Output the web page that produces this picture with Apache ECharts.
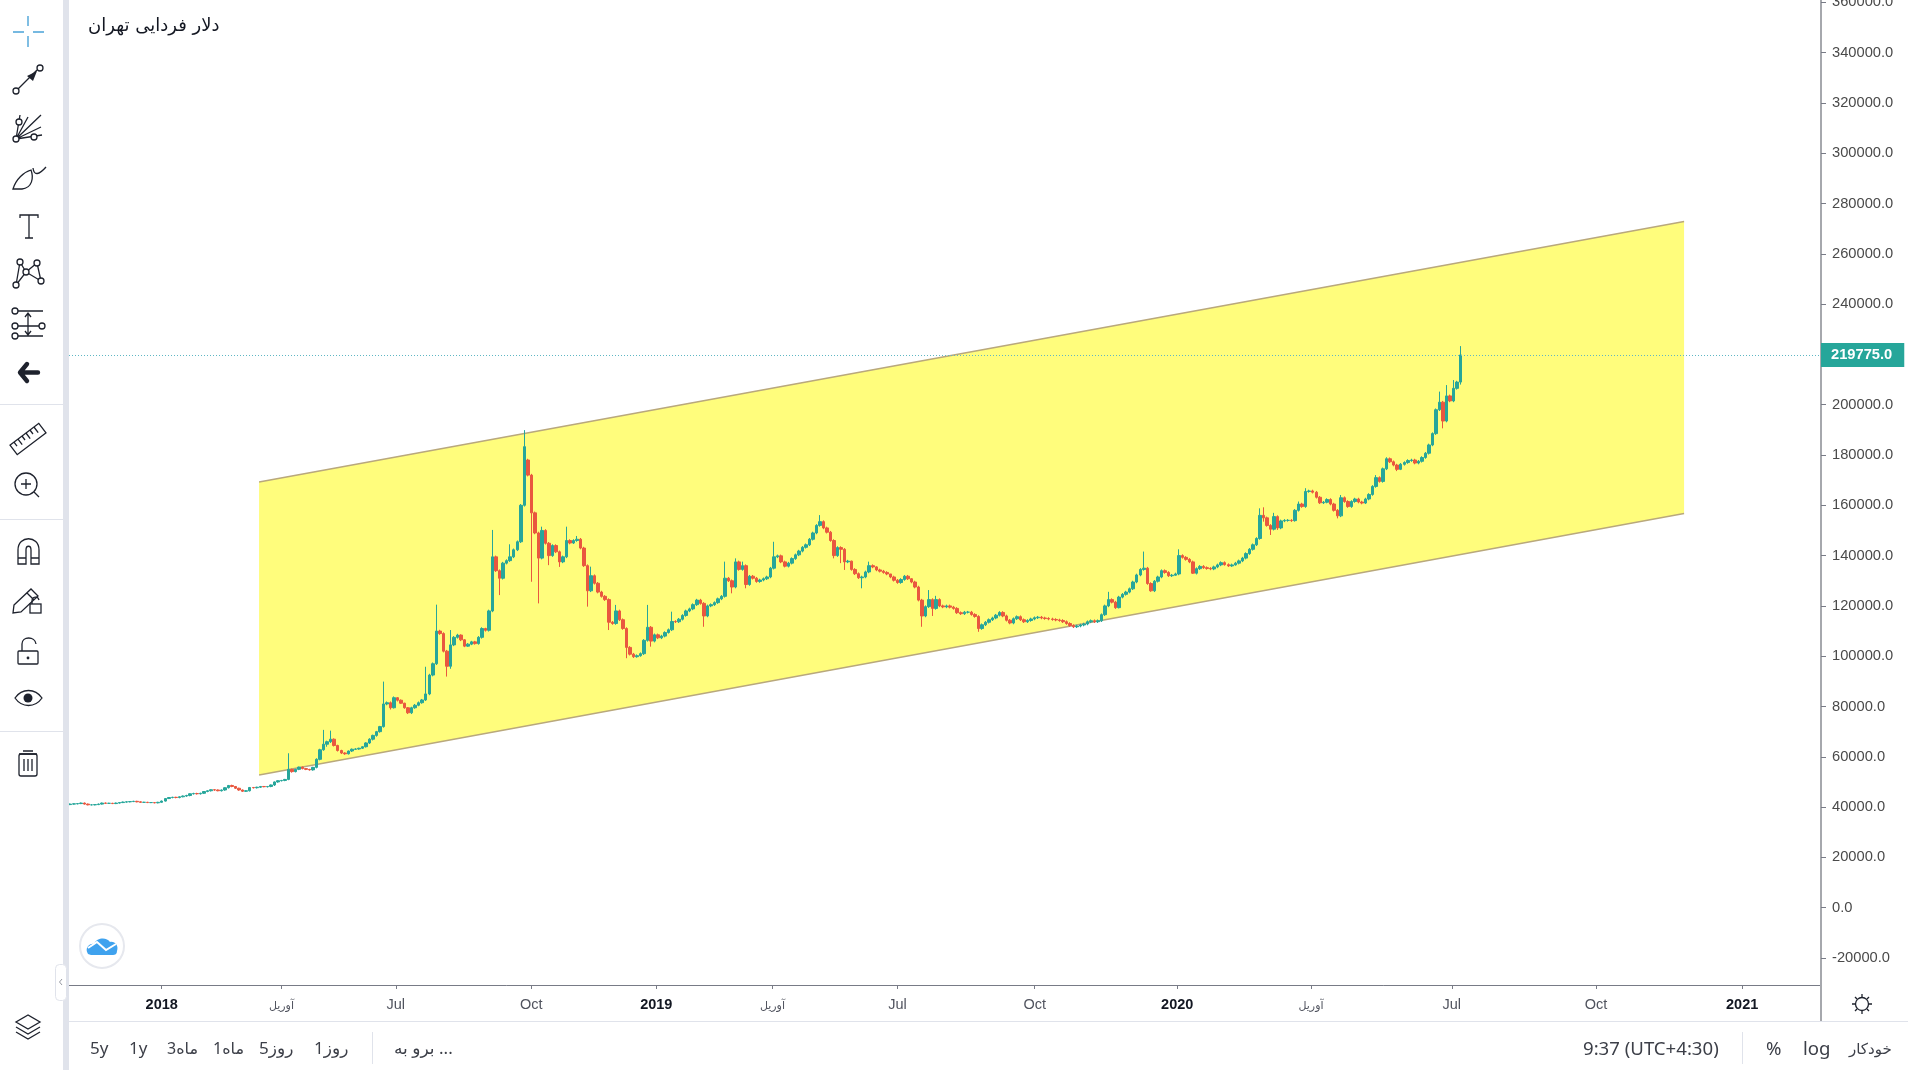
<!DOCTYPE html>
<html>
<head>
    <meta charset="UTF-8">
    <title>دلار فردایی تهران</title>
    <script src="https://cdn.jsdelivr.net/npm/echarts@6/dist/echarts.min.js"></script>
    <style>
        html, body { margin: 0; padding: 0; width: 1908px; height: 1070px; overflow: hidden; background: #fff; }
        #chart { position: absolute; left: 0; top: 0; width: 1908px; height: 1070px; }
        .chrome { position: absolute; pointer-events: none; }
        .line { position: absolute; background: #e0e3eb; }
        .foot { position: absolute; top: 1036px; line-height: 24px; font-family: "Noto Sans", "DejaVu Sans", sans-serif; font-size: 17px; color: #3c3f48; white-space: nowrap; direction: ltr; }
        svg { position: absolute; left: 0; top: 0; }
        svg .ic { fill: none; stroke: #1e222d; stroke-width: 1.3; }
    </style>
</head>
<body>
    <div id="chart"></div>

    <!-- left toolbar and bottom bar of the trading screen -->
    <div class="line" style="left:63px;top:0;width:6px;height:1070px"></div>
    <div class="line" style="left:0;top:404px;width:63px;height:1px"></div>
    <div class="line" style="left:0;top:519px;width:63px;height:1px"></div>
    <div class="line" style="left:0;top:731px;width:63px;height:1px"></div>
    <div class="line" style="left:69px;top:1021px;width:1839px;height:1px"></div>
    <div class="line" style="left:372px;top:1032px;width:1px;height:32px"></div>
    <div class="line" style="left:1742px;top:1032px;width:1px;height:32px"></div>
    <div class="line" style="left:1820px;top:985px;width:2px;height:36px;background:#a6a8ad"></div>

    <svg class="chrome" width="1908" height="1070" viewBox="0 0 1908 1070">
        <!-- crosshair -->
        <g stroke="#4aa3d8" stroke-width="1.4" fill="none">
            <path d="M28 16V26M28 36V47M13 32H24M33 32H44"/>
        </g>
        <!-- trend line -->
        <g class="ic">
            <circle cx="16" cy="91" r="3" fill="#fff"/><circle cx="40" cy="68" r="3" fill="#fff"/>
            <path d="M18 89L37 70"/>
        </g>
        <path d="M37 71L27 76L33 81Z" fill="#1e222d"/>
        <!-- fan -->
        <g class="ic">
            <path d="M16 139L20 115M16 139L28 117M16 139L41 115M16 139L41 127M16 139L42 135"/>
            <circle cx="16" cy="139" r="3" fill="#fff"/><circle cx="19" cy="122" r="3" fill="#fff"/><circle cx="34" cy="137" r="3" fill="#fff"/>
        </g>
        <!-- brush -->
        <path class="ic" d="M13 189C16 179 24 172 31 170C34 178 32 188 22 189ZM33 168C34 176 39 175 46 167"/>
        <!-- text -->
        <path class="ic" d="M20 218V215H38V218M29 215V238M25 238H33"/>
        <!-- pattern -->
        <g class="ic">
            <path d="M16 285L20 262L26 272L37 263L41 281L26 272L16 285"/>
            <circle cx="16" cy="285" r="3" fill="#fff"/><circle cx="20" cy="262" r="3" fill="#fff"/><circle cx="37" cy="263" r="3" fill="#fff"/><circle cx="41" cy="281" r="3" fill="#fff"/><circle cx="26" cy="272" r="3" fill="#fff"/>
        </g>
        <!-- fib -->
        <g class="ic">
            <path d="M18 311H43M18 326H39M18 336H43M28 314V334M25 317L28 313L31 317M25 331L28 335L31 331"/>
            <circle cx="15" cy="311" r="3" fill="#fff"/><circle cx="15" cy="326" r="3" fill="#fff"/><circle cx="15" cy="336" r="3" fill="#fff"/><circle cx="42" cy="326" r="3" fill="#fff"/>
        </g>
        <!-- hide tools -->
        <path d="M27 364L20 372.5L27 381M21 372.5H38" fill="none" stroke="#1e222d" stroke-width="4.4" stroke-linejoin="round" stroke-linecap="round"/>
        <!-- ruler -->
        <g class="ic" transform="rotate(-37 28 439)">
            <rect x="10" y="433" width="36" height="12"/>
            <path d="M15 433V438M20 433V440M25 433V438M30 433V440M35 433V438M40 433V440"/>
        </g>
        <!-- zoom -->
        <g class="ic">
            <circle cx="26" cy="484" r="11"/><path d="M21 484H31M26 479V489M34 492L39 497"/>
        </g>
        <!-- magnet -->
        <path class="ic" d="M18 564V550C18 535 39 535 39 550V564H31V550C31 545 26 545 26 550V564ZM18 558H26M31 558H39"/>
        <!-- pencil lock -->
        <g class="ic">
            <path d="M14 605L31 589L38 596L21 612L13 613ZM27 593L34 600"/>
            <rect x="30" y="604" width="11" height="9" fill="#fff"/><path d="M32 604V601C32 596 38 596 39 600"/>
        </g>
        <!-- lock -->
        <g class="ic">
            <rect x="18" y="651" width="20" height="13" rx="1"/><path d="M22 651V644C22 636 35 636 36 644"/>
        </g>
        <circle cx="28" cy="658" r="1.4" fill="#1e222d"/>
        <!-- eye -->
        <path class="ic" d="M15 698C22 688 35 688 42 698C35 708 22 708 15 698Z"/>
        <circle cx="28" cy="698" r="4.5" fill="#1e222d"/>
        <!-- trash -->
        <g class="ic">
            <rect x="19" y="754" width="18" height="22" rx="2"/><path d="M19 754H37M23 751H33M24 759V771M28 759V771M32 759V771"/>
        </g>
        <!-- layers -->
        <path class="ic" d="M28 1015L16 1022L28 1029L40 1022ZM16 1027L28 1034L40 1027M16 1032L28 1039L40 1032"/>
        <!-- collapse tab -->
        <rect x="55.5" y="964.5" width="11" height="36" rx="4" fill="#fff" stroke="#e0e3eb"/>
        <path d="M62 979L59.5 982L62 985" fill="none" stroke="#9598a1"/>
        <!-- logo -->
        <circle cx="102" cy="946" r="22" fill="#fff" stroke="#e6e8ee" stroke-width="2"/>
        <path d="M88 954C84 948 90 943 94 944C97 937 107 937 110 942C115 941 119 946 117 951C117 954 115 955 113 955H91Z" fill="#3fa2ee"/>
        <path d="M88 948L97 942L106 950L116 944" fill="none" stroke="#fff" stroke-width="2"/>
        <!-- settings -->
        <g class="ic">
            <circle cx="1862" cy="1004" r="6.5"/>
            <path d="M1862 994V997M1862 1011V1014M1852 1004H1855M1869 1004H1872M1855 997L1857 999M1867 1009L1869 1011M1869 997L1867 999M1857 1009L1855 1011"/>
        </g>
    </svg>

    <span class="foot" style="left:90px">5y</span>
    <span class="foot" style="left:129px">1y</span>
    <span class="foot" style="left:167px;font-size:16px">3ماه</span>
    <span class="foot" style="left:213px;font-size:16px">1ماه</span>
    <span class="foot" style="left:259px;letter-spacing:.5px">5روز</span>
    <span class="foot" style="left:314px;letter-spacing:.5px">1روز</span>
    <span class="foot" style="left:394px;letter-spacing:.8px">برو به ...</span>
    <span class="foot" style="left:1583px;font-size:18.6px">9:37 (UTC+4:30)</span>
    <span class="foot" style="left:1766px;font-size:18.6px">%</span>
    <span class="foot" style="left:1803px;font-size:18.6px">log</span>
    <span class="foot" style="left:1849px;font-size:15px">خودکار</span>

    <script>
        const chartTitle = 'دلار فردایی تهران';

        // x unit is the trading bar number, bar 0 sits on the 2018 tick
        const barFirst = -52, barStep = 2;
        const xMin = -52.7, xMax = 942.8;
        const yMin = -30736, yMax = 360914;

        const xTickBars = [0, 68, 133, 210, 281, 347, 418, 496, 577, 653, 733, 815, 898];
        const xTickLabels = ['2018', 'آوریل', 'Jul', 'Oct', '2019', 'آوریل', 'Jul', 'Oct', '2020', 'آوریل', 'Jul', 'Oct', '2021'];
        const yTicks = [-20000, 0, 20000, 40000, 60000, 80000, 100000, 120000, 140000, 160000, 180000,
            200000, 220000, 240000, 260000, 280000, 300000, 320000, 340000, 360000];

        const lastPrice = 219775;

        const channelBars = [55.3, 865];
        const channelUpper = [169260, 272840];
        const channelLower = [52760, 156740];

        const opens = [
            41000,41200,41300,41400,41600,41200,40900,40900,41000,41200,41600,41500,41500,41400,41600,
            41800,42000,42100,42200,42300,42100,41900,41900,41800,41800,41700,41900,42400,43400,43800,
            43900,43800,44100,44400,44600,45300,45400,45300,45500,46200,46500,46900,46800,46500,46800,
            47700,48600,48200,47500,46800,46300,46500,47800,47700,47900,48200,48100,48200,48800,50000,
            50500,50600,51000,55000,54100,55000,55900,55300,55000,54800,55800,59000,62800,65000,66000,
            67000,64500,62500,61500,61200,62300,63000,63100,63400,64000,65500,67000,68500,70000,72000,
            81000,81500,79500,83500,82500,81300,79500,77500,79500,80500,81500,82600,85000,92500,97000,
            110000,109000,102000,96000,104500,107500,108400,106500,104000,104800,105700,105000,107500,111000,110300,
            118000,139500,134000,131000,137000,138000,139500,142300,145500,160000,178000,172000,157000,149000,139000,
            150000,144900,140000,144000,141500,137500,139500,146000,145000,146000,146500,143000,136000,126000,132000,
            129000,125500,123800,122500,113500,113000,118000,114500,111000,103500,100800,99800,100200,101000,106300,
            111500,106000,108500,107300,108000,109400,110500,113800,113700,114700,116200,118000,118800,120500,122300,
            121000,116000,120000,120500,121300,122800,123800,131000,130000,127500,137500,134500,136000,128500,131800,
            131000,129700,130300,130800,131500,135000,139500,139900,137500,135800,137000,138800,140300,141800,143300,
            144300,146500,149000,152000,153500,151000,149300,146000,140000,143200,142500,137500,137800,134500,132800,
            131200,131500,133500,136000,135500,134300,133800,133300,132700,131500,130200,129300,130500,131800,130800,
            129500,127500,122300,116000,119700,122500,119000,122500,120000,119600,120000,119500,119000,117300,116900,
            117500,117500,116600,115800,111000,112500,113500,114500,115200,116300,117400,116000,114300,113200,114900,
            115700,114500,113700,114200,114800,115300,115500,115200,115000,114800,114600,114400,114200,113700,113000,
            112200,111700,112000,112400,112800,113700,114100,113700,114100,116500,120000,122500,121500,119300,123500,
            124600,125500,126800,129500,132300,134500,135000,128900,126000,129800,131500,134000,133300,132000,132200,
            132700,140000,139300,138500,137500,133000,134800,135700,135200,134900,134700,135500,136300,137200,136400,
            135900,136300,137000,137900,139000,140800,142500,144300,146800,156000,155000,152000,150500,155500,151000,
            153800,154000,154000,153900,158000,160500,159500,165500,165700,165200,163200,161000,161200,162300,160500,
            158000,155800,163000,161500,159500,161500,162500,161300,160900,162500,164300,167500,171000,169500,174500,
            178500,177300,176000,174300,176300,177000,177800,178000,176800,177500,179000,180700,184000,188500,198000,
            201000,193500,203500,201500,206500,209000
        ];
        const closes = [
            41200,41300,41400,41600,41200,40900,40900,41000,41200,41600,41500,41500,41400,41600,41800,
            42000,42100,42200,42300,42100,41900,41900,41800,41800,41700,41900,42400,43400,43800,43900,
            43800,44100,44400,44600,45300,45400,45300,45500,46200,46500,46900,46800,46500,46800,47700,
            48600,48200,47500,46800,46300,46500,47800,47700,47900,48200,48100,48200,48800,50000,50500,
            50600,51000,55000,54100,55000,55900,55300,55000,54800,55800,59000,62800,65000,66000,67000,
            64500,62500,61500,61200,62300,63000,63100,63400,64000,65500,67000,68500,70000,72000,81000,
            81500,79500,83500,82500,81300,79500,77500,79500,80500,81500,82600,85000,92500,97000,110000,
            109000,102000,96000,104500,107500,108400,106500,104000,104800,105700,105000,107500,111000,110300,118000,
            139500,134000,131000,137000,138000,139500,142300,145500,160000,183300,172000,157000,149000,139000,150000,
            144900,140000,144000,141500,137500,139500,146000,145000,146000,146500,143000,136000,126000,132000,129000,
            125500,123800,122500,113500,113000,118000,114500,111000,103500,100800,99800,100200,101000,106300,111500,
            106000,108500,107300,108000,109400,110500,113800,113700,114700,116200,118000,118800,120500,122300,121000,
            116000,120000,120500,121300,122800,123800,131000,130000,127500,137500,134500,136000,128500,131800,131000,
            129700,130300,130800,131500,135000,139500,139900,137500,135800,137000,138800,140300,141800,143300,144300,
            146500,149000,152000,153500,151000,149300,146000,140000,143200,142500,137500,137800,134500,132800,131200,
            131500,133500,136000,135500,134300,133800,133300,132700,131500,130200,129300,130500,131800,130800,129500,
            127500,122300,116000,119700,122500,119000,122500,120000,119600,120000,119500,119000,117300,116900,117500,
            117500,116600,115800,111000,112500,113500,114500,115200,116300,117400,116000,114300,113200,114900,115700,
            114500,113700,114200,114800,115300,115500,115200,115000,114800,114600,114400,114200,113700,113000,112200,
            111700,112000,112400,112800,113700,114100,113700,114100,116500,120000,122500,121500,119300,123500,124600,
            125500,126800,129500,132300,134500,135000,128900,126000,129800,131500,134000,133300,132000,132200,132700,
            140000,139300,138500,137500,133000,134800,135700,135200,134900,134700,135500,136300,137200,136400,135900,
            136300,137000,137900,139000,140800,142500,144300,146800,156000,155000,152000,150500,155500,151000,153800,
            154000,154000,153900,158000,160500,159500,165500,165700,165200,163200,161000,161200,162300,160500,158000,
            155800,163000,161500,159500,161500,162500,161300,160900,162500,164300,167500,171000,169500,174500,178500,
            177300,176000,174300,176300,177000,177800,178000,176800,177500,179000,180700,184000,188500,198000,201000,
            193500,203500,201500,206500,209000,219775
        ];
        const lows = [
            40800,41000,41100,41200,41000,40700,40700,40700,40800,41000,41300,41300,41200,41200,41400,
            41600,41800,41900,42000,41900,41700,41700,41600,41600,41500,41500,41700,42200,43200,43500,
            43500,43500,43900,44100,44300,45000,45000,45000,45200,45900,46200,46500,46300,46200,46500,
            47400,47900,47200,46500,46000,46000,46200,47400,47400,47600,47900,47800,47900,48400,49700,
            50200,50300,50700,53700,53800,54700,55000,54700,54500,54500,55400,58600,62400,64000,65500,
            64100,62100,61100,60800,60900,61900,62700,62800,63100,63700,65100,66500,68000,69600,71600,
            80500,78800,79200,82000,81000,79100,77000,77000,79100,80100,81100,82200,84500,92000,96500,
            108500,101500,91900,95000,104000,107000,106000,103600,103700,104400,104600,104600,107000,109800,109800,
            117500,133500,124300,130500,136500,137500,139000,141800,145000,159500,171500,129600,148500,121000,138500,
            144400,136200,139500,141000,135500,137000,139000,144500,144600,145500,142500,135500,119700,125500,128500,
            125000,123300,122000,110400,112500,112500,114000,110500,99200,100300,99300,99400,99800,100500,105800,
            103800,105500,106800,106800,107500,109000,110000,113200,113200,114200,115700,117500,118300,120000,120500,
            111700,115500,119500,120000,120800,122300,123300,129500,125000,127000,134000,134000,127000,128000,130500,
            129200,129200,129800,130300,131000,134500,139000,137000,135300,135300,136500,138300,139800,141300,142800,
            143800,146000,148500,151500,150500,148800,145500,138900,139500,137000,134300,137000,134000,132300,130700,
            127000,131000,133000,135000,133800,133300,132800,132200,131000,129700,128800,128800,130000,130300,129000,
            127000,121800,111700,115500,119200,116000,118500,119500,119100,119100,119000,118500,116800,116400,116400,
            117000,116100,115300,109700,110500,112000,113000,114000,114700,115800,115500,113800,112700,112700,114400,
            114000,113200,113200,113700,114300,114800,114700,114500,114300,114100,113900,113700,113200,112500,111700,
            111200,111200,111500,111900,112300,113200,113200,113200,113600,116000,119500,121000,118800,119000,123000,
            124100,125000,126300,129000,131800,134000,128400,125600,125500,129300,131000,132800,131500,131500,132000,
            132200,138800,138000,137000,132700,132500,134300,134700,134400,134200,134200,135000,135800,136000,135500,
            135500,136000,136500,137400,138500,140300,142000,143800,146300,153500,151500,148200,150000,150200,150500,
            153300,153500,153400,153500,157500,159000,159000,165000,164700,162700,160500,160500,160800,160000,157500,
            154800,155300,161000,159000,159000,161000,160800,160400,160500,162000,163800,167000,169000,169000,174000,
            176800,175500,173600,174000,175800,176500,177300,176300,176300,177000,178500,180200,183500,188000,197500,
            190600,193000,201000,201000,206000,208000
        ];
        const highs = [
            41400,41500,41600,41800,41800,41400,41100,41200,41400,41800,41800,41700,41700,41800,42000,
            42200,42300,42400,42500,42500,42300,42100,42100,42000,42000,42100,42600,43600,44000,44100,
            44100,44300,44600,44900,45500,45700,45700,45700,46400,46700,47100,47100,47000,47000,47900,
            48800,48900,48400,47700,47000,46700,48000,48000,48100,48400,48400,48400,49000,50200,50700,
            50800,51200,61400,55300,55200,56100,56100,55500,55200,56000,59400,63200,70700,66400,70400,
            67300,64800,62800,61800,62500,63300,63400,63600,64200,65800,67400,68800,70300,72300,89900,
            82000,82000,84000,83700,82800,81500,79800,79900,81000,82000,83000,95800,93000,97500,120500,
            110500,109500,102500,110400,108000,108900,108700,106800,105200,106100,106100,108000,111500,111300,118500,
            150200,140000,134500,137500,138500,144500,142800,146000,160500,189900,178500,172500,157500,149500,151500,
            150500,145400,144500,144500,142000,140000,151500,146500,146500,147800,147000,143500,136500,135600,132500,
            129500,126000,124300,123000,114000,120400,118500,115000,111500,104000,101300,100700,101500,106800,120400,
            112000,109000,109000,108500,109900,111000,117700,114300,115200,116700,118500,119300,121000,122800,122800,
            121500,120500,121000,121800,123300,124300,137600,131500,130500,138900,138000,137600,136500,132300,132300,
            131500,130800,131300,132000,135500,145500,140400,140400,138000,137500,139300,140800,142300,143800,144800,
            147000,149500,152500,156100,154000,151500,149800,146500,143700,143700,143000,138300,138000,135000,133300,
            132000,134000,137600,136500,135800,134800,134300,133800,132700,132000,130700,131000,132300,132300,131000,
            130000,128000,122800,120200,126300,123000,124000,123000,120500,120500,120500,120000,119500,117800,118000,
            118000,118000,117100,116300,113000,114000,115000,115700,116800,117900,117900,116500,114800,115400,116200,
            116200,115000,114700,115300,115800,116000,116000,115700,115500,115300,115100,114900,114700,114200,113500,
            112700,112500,112900,113300,114200,114600,114600,114600,117000,120500,125600,123000,122000,124000,125100,
            126000,127300,130000,132800,135000,141600,135500,129400,130300,132000,134500,134500,133800,132700,133200,
            142500,140500,139800,139000,138000,135300,136200,136200,135700,135400,136000,136800,137700,137700,136900,
            136800,137500,138400,139500,141300,143000,144800,147300,158800,159200,155500,152500,157000,156000,154300,
            154500,154500,154500,158500,161500,161000,166800,166200,166200,165700,163700,161700,162800,162800,161000,
            158500,164100,163500,162000,162000,163000,163000,161800,163000,164800,168000,172000,171500,175000,179100,
            179000,177800,176500,176800,177500,178300,178500,178500,178000,179500,181200,184500,189000,198500,205200,
            201500,207800,204000,209800,209500,223300
        ];

        const upColor = '#26a69a';
        const downColor = '#e9573f';

        const candles = closes.map((c, i) => [barFirst + i * barStep, opens[i], c, lows[i], highs[i]]);

        const myChart = echarts.init(document.getElementById('chart'));

        const option = {
            animation: false,
            backgroundColor: '#fff',
            title: {
                text: chartTitle,
                left: 83,
                top: 12,
                textStyle: { fontFamily: '"DejaVu Sans", sans-serif', fontSize: 18, fontWeight: 'normal', color: '#131722' }
            },
            // the 360000 label runs off the top of the page, the grid must not shrink for it
            grid: { left: 69, right: 87, top: 0, bottom: 85, outerBoundsMode: 'none' },
            xAxis: {
                type: 'value',
                min: xMin,
                max: xMax,
                splitLine: { show: false },
                axisLine: { onZero: false, lineStyle: { color: '#787b86', width: 1 } },
                axisTick: { length: 4, customValues: xTickBars, lineStyle: { color: '#787b86' } },
                axisLabel: {
                    customValues: xTickBars,
                    margin: 12,
                    hideOverlap: false,
                    showMinLabel: true,
                    showMaxLabel: true,
                    formatter: function (value) {
                        const label = xTickLabels[xTickBars.indexOf(value)];
                        if (/^20/.test(label)) return '{year|' + label + '}';
                        if (label === 'Jul' || label === 'Oct') return '{month|' + label + '}';
                        return '{fa|' + label + '}';
                    },
                    rich: {
                        year: { fontFamily: '"Liberation Sans", Arial, sans-serif', fontSize: 14.5, fontWeight: 'bold', color: '#131722' },
                        month: { fontFamily: '"Liberation Sans", Arial, sans-serif', fontSize: 14.5, color: '#50535e' },
                        fa: { fontFamily: '"DejaVu Sans", sans-serif', fontSize: 11, color: '#50535e', padding: [4, 0, 0, 0] }
                    }
                }
            },
            yAxis: {
                type: 'value',
                position: 'right',
                min: yMin,
                max: yMax,
                splitLine: { show: false },
                axisLine: { show: true, onZero: false, lineStyle: { color: '#a6a8ad', width: 2 } },
                axisTick: { show: true, length: 5, customValues: yTicks, lineStyle: { color: '#787b86' } },
                axisLabel: {
                    customValues: yTicks,
                    margin: 11,
                    padding: [3, 0, 0, 0],
                    fontFamily: '"Liberation Sans", Arial, sans-serif',
                    fontSize: 14.7,
                    color: '#4a4a4a',
                    showMinLabel: true,
                    showMaxLabel: true,
                    formatter: function (value) { return value.toFixed(1); }
                }
            },
            series: [
                {
                    type: 'custom',
                    z: 1,
                    silent: true,
                    data: [[channelBars[0], channelUpper[0]]],
                    renderItem: function (params, api) {
                        const points = [
                            api.coord([channelBars[0], channelUpper[0]]),
                            api.coord([channelBars[1], channelUpper[1]]),
                            api.coord([channelBars[1], channelLower[1]]),
                            api.coord([channelBars[0], channelLower[0]])
                        ];
                        return { type: 'polygon', shape: { points: points }, style: { fill: '#fffd7c' } };
                    }
                },
                {
                    type: 'line',
                    z: 2,
                    silent: true,
                    showSymbol: false,
                    lineStyle: { color: '#b9a87c', width: 1.5 },
                    data: channelBars.map((b, i) => [b, channelUpper[i]])
                },
                {
                    type: 'line',
                    z: 2,
                    silent: true,
                    showSymbol: false,
                    lineStyle: { color: '#b9a87c', width: 1.5 },
                    data: channelBars.map((b, i) => [b, channelLower[i]])
                },
                {
                    type: 'candlestick',
                    z: 3,
                    barWidth: 3,
                    data: candles,
                    encode: { x: 0, y: [1, 2, 3, 4] },
                    itemStyle: {
                        color: upColor,
                        color0: downColor,
                        borderColor: upColor,
                        borderColor0: downColor,
                        borderWidth: 1
                    },
                    markLine: {
                        silent: true,
                        symbol: 'none',
                        animation: false,
                        lineStyle: { color: '#5fb7c4', type: [1, 2], width: 1 },
                        label: {
                            position: 'end',
                            distance: 0,
                            formatter: lastPrice.toFixed(1),
                            fontFamily: '"Liberation Sans", Arial, sans-serif',
                            fontSize: 14.7,
                            fontWeight: 'bold',
                            color: '#fff',
                            backgroundColor: upColor,
                            padding: [5, 12, 4, 10]
                        },
                        data: [{ yAxis: lastPrice }]
                    }
                }
            ]
        };

        myChart.setOption(option);

        window.addEventListener('resize', function () {
            myChart && myChart.resize();
        });
    </script>
</body>
</html>
